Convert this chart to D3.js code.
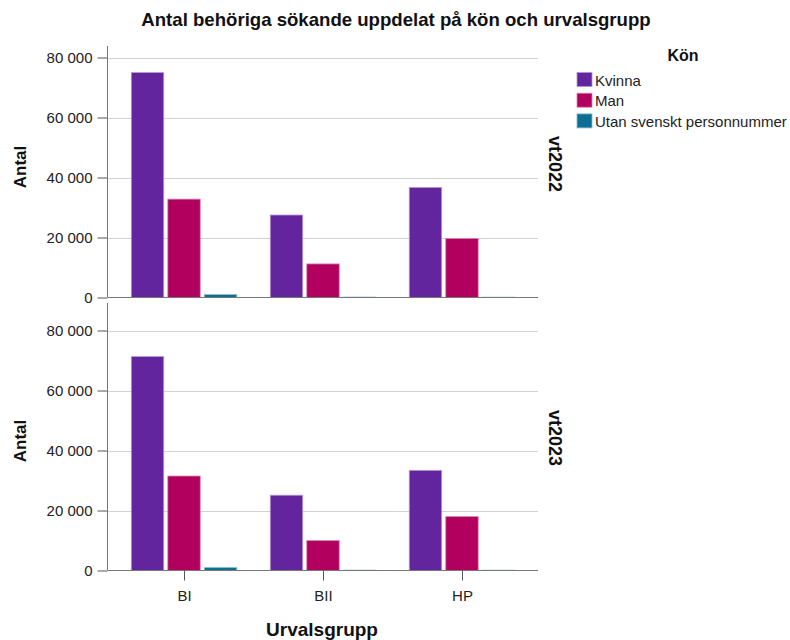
<!DOCTYPE html>
<html>
<head>
<meta charset="utf-8">
<script src="https://cdn.jsdelivr.net/npm/d3@7"></script>
<style>
  html, body { margin: 0; padding: 0; background: #fff; }
  svg { display: block; font-family: "Liberation Sans", Arial, sans-serif; }
</style>
</head>
<body>
<svg id="chart" width="790" height="640"></svg>
<script>
const categories = ["BI", "BII", "HP"];
const seriesNames = ["Kvinna", "Man", "Utan svenskt personnummer"];
const periods = ["vt2022", "vt2023"];
const vt2022Kvinna = [75000, 27500, 36700];
const vt2022Man = [32800, 11200, 19700];
const vt2022Utan = [1000, 150, 120];
const vt2023Kvinna = [71300, 25100, 33400];
const vt2023Man = [31500, 10000, 18000];
const vt2023Utan = [1000, 130, 110];
const yTicks = [0, 20000, 40000, 60000, 80000];
const seriesColors = ["#62259D", "#B2005E", "#0E6F94"];

const titleText = "Antal behöriga sökande uppdelat på kön och urvalsgrupp";
const xTitle = "Urvalsgrupp";
const yTitle = "Antal";
const legendTitle = "Kön";

const panelValues = {
  vt2022: [vt2022Kvinna, vt2022Man, vt2022Utan],
  vt2023: [vt2023Kvinna, vt2023Man, vt2023Utan]
};

const svg = d3.select("#chart");
const locale = d3.formatLocale({ decimal: ",", thousands: "\u00a0", grouping: [3], currency: ["", ""] });
const fmt = locale.format(",");

const xLeft = 108, xRight = 538;
const x = d3.scalePoint().domain(categories).range([xLeft, xRight]).padding(0.547);
const groupWidth = 105.5;
const xs = d3.scaleBand().domain(seriesNames).range([-groupWidth / 2, groupWidth / 2])
  .paddingInner(0.11).paddingOuter(0);
const color = d3.scaleOrdinal().domain(seriesNames).range(seriesColors);

const panels = [
  { name: "vt2022", base: 297.5, top: 46, labelY: 167 },
  { name: "vt2023", base: 570.5, top: 303, labelY: 441 }
];

// Title
svg.append("text")
  .attr("x", 396).attr("y", 26)
  .attr("text-anchor", "middle")
  .attr("font-size", 18.6).attr("font-weight", "bold").attr("fill", "#111")
  .text(titleText);

panels.forEach((p, pi) => {
  const y = d3.scaleLinear().domain([0, 80000]).range([p.base, p.base - 240]);
  const g = svg.append("g");

  // gridlines
  g.selectAll("line.grid").data(yTicks.filter(t => t > 0)).join("line")
    .attr("class", "grid")
    .attr("x1", xLeft).attr("x2", xRight)
    .attr("y1", d => Math.round(y(d)) + 0.5).attr("y2", d => Math.round(y(d)) + 0.5)
    .attr("stroke", "#d2d2d2").attr("stroke-width", 1);

  // bars
  const vals = panelValues[p.name];
  seriesNames.forEach((s, si) => {
    const fill = color(s);
    const edge = d3.interpolateRgb(fill, "#ffffff")(0.55);
    g.selectAll("rect.s" + si).data(categories.map((c, ci) => ({ c, v: vals[si][ci] }))).join("rect")
      .attr("class", "s" + si)
      .attr("x", d => x(d.c) + xs(s))
      .attr("width", xs.bandwidth())
      .attr("y", d => y(d.v))
      .attr("height", d => y(0) - y(d.v))
      .attr("fill", fill)
      .attr("stroke", edge).attr("stroke-width", 0.8);
  });

  // y axis
  const yAxis = d3.axisLeft(y).tickValues(yTicks).tickFormat(fmt).tickSize(10).tickSizeOuter(0);
  const ya = svg.append("g").attr("transform", `translate(${xLeft - 0.5},0)`).call(yAxis);
  ya.select(".domain").remove();
  ya.selectAll(".tick line").attr("stroke", "#555");
  ya.selectAll(".tick text").attr("font-size", 15).attr("fill", "#222")
    .attr("font-family", "'Liberation Sans', Arial, sans-serif").attr("x", -15);
  svg.append("line")
    .attr("x1", xLeft - 0.5).attr("x2", xLeft - 0.5)
    .attr("y1", p.top).attr("y2", p.base)
    .attr("stroke", "#777");

  // x axis line
  const xAxis = d3.axisBottom(x).tickSize(pi === 1 ? 10 : 0).tickSizeOuter(0);
  const xa = svg.append("g").attr("transform", `translate(0,${p.base})`).call(xAxis);
  xa.select(".domain").attr("stroke", "#777").attr("d", `M${xLeft},0H${xRight}`);
  xa.selectAll(".tick line").attr("stroke", "#555");
  if (pi === 1) {
    xa.selectAll(".tick text").attr("font-size", 15).attr("fill", "#222")
      .attr("font-family", "'Liberation Sans', Arial, sans-serif").attr("y", 20);
  } else {
    xa.selectAll(".tick text").remove();
  }

  // y title
  svg.append("text")
    .attr("transform", `translate(26,${p.labelY}) rotate(-90)`)
    .attr("text-anchor", "middle")
    .attr("font-size", 17).attr("font-weight", "bold").attr("fill", "#111")
    .text(yTitle);

  // facet label
  svg.append("text")
    .attr("transform", `translate(549,${p.labelY - 3}) rotate(90)`)
    .attr("text-anchor", "middle")
    .attr("font-size", 18).attr("font-weight", "bold").attr("fill", "#111")
    .text(p.name);
});

// x title
svg.append("text")
  .attr("x", 322).attr("y", 636)
  .attr("text-anchor", "middle")
  .attr("font-size", 19).attr("font-weight", "bold").attr("fill", "#111")
  .text(xTitle);

// legend
const lg = svg.append("g");
lg.append("text").attr("x", 683).attr("y", 61).attr("text-anchor", "middle")
  .attr("font-size", 16).attr("font-weight", "bold").attr("fill", "#111").text(legendTitle);
seriesNames.forEach((s, i) => {
  const yy = 72.5 + i * 20.7;
  lg.append("rect").attr("x", 577).attr("y", yy).attr("width", 15).attr("height", 14)
    .attr("fill", color(s)).attr("stroke", d3.interpolateRgb(color(s), "#fff")(0.5)).attr("stroke-width", 0.8);
  lg.append("text").attr("x", 595).attr("y", yy + 13).attr("font-size", 15).attr("fill", "#222").text(s);
});
</script>
</body>
</html>
